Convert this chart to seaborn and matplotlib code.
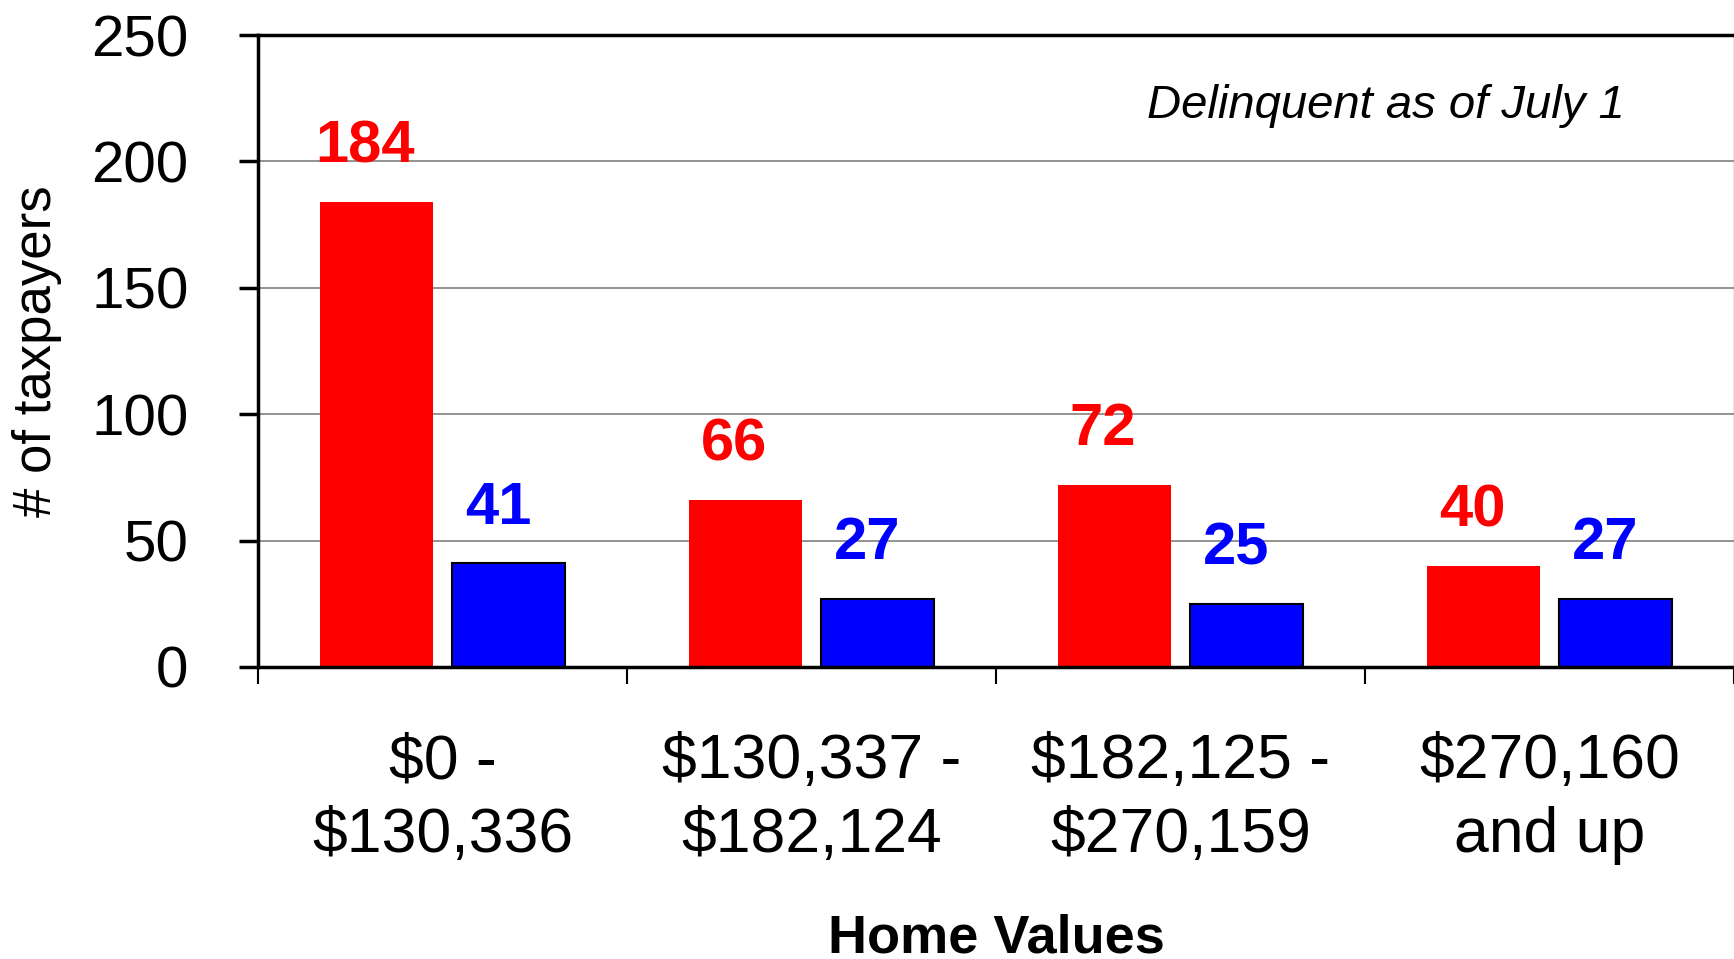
import numpy as np
import pandas as pd
import matplotlib.pyplot as plt
import seaborn as sns

# Home value brackets (the "$" is escaped so it is not read as mathtext)
home_values = ["\\$0 -\n\\$130,336", "\\$130,337 -\n\\$182,124",
               "\\$182,125 -\n\\$270,159", "\\$270,160\nand up"]

# Two series
series_names = ["red", "blue"]
red_counts = [184, 66, 72, 40]
blue_counts = [41, 27, 25, 27]
bar_colors = ["#FF0000", "#0000FF"]

sns.set_theme(style="white")
plt.rcParams["font.family"] = ["Liberation Sans", "DejaVu Sans"]
plt.rcParams["text.color"] = "black"
plt.rcParams["axes.labelcolor"] = "black"

# Long format table for seaborn
df = pd.DataFrame({
    "home_value": home_values * 2,
    "series": [series_names[0]] * len(red_counts) + [series_names[1]] * len(blue_counts),
    "taxpayers": red_counts + blue_counts,
})

fig = plt.figure(figsize=(17.34, 9.59), dpi=100)
ax = fig.add_axes([0.1488, 0.3045, 0.8512, 0.659])

sns.barplot(data=df, x="home_value", y="taxpayers", hue="series",
            palette=bar_colors, width=0.72, gap=0.15, saturation=1,
            legend=False, ax=ax)

# Red bars have no outline, blue bars a black one
for bar in ax.containers[0]:
    bar.set_edgecolor("none")
for bar in ax.containers[1]:
    bar.set_edgecolor("black")
    bar.set_linewidth(1.5)

# Value labels over the bars, nudged a little to the left like the original
for container, color in zip(ax.containers, bar_colors):
    labels = ax.bar_label(container, fmt="%d", padding=20, color=color,
                          fontsize=43, fontweight="bold")
    for lab in labels:
        lab.xyann = (-8, 20)

ax.set_xlim(-0.5, 3.5)
ax.set_ylim(0, 250)
ax.set_yticks(np.arange(0, 251, 50))
ax.yaxis.grid(True, color="#808080", linewidth=1.2)
ax.set_axisbelow(True)

# Axis frame
for side in ["top", "left", "bottom"]:
    ax.spines[side].set_color("black")
    ax.spines[side].set_linewidth(2.5)
ax.spines["right"].set_color("#808080")
ax.spines["right"].set_linewidth(1)

# Ticks
ax.tick_params(axis="y", left=True, direction="out", length=14, width=2.5,
               pad=36, labelsize=42, colors="black")
ax.tick_params(axis="x", which="major", bottom=True, length=0, pad=47,
               labelsize=45, colors="black")
ax.set_xticks(np.arange(-0.5, 4, 1), minor=True)
ax.tick_params(axis="x", which="minor", bottom=True, direction="out",
               length=12, width=1.5, color="black")
for label in ax.get_xticklabels():
    label.set_linespacing(1.33)

# Axis titles
ax.set_xlabel("Home Values", fontsize=39, fontweight="bold")
ax.xaxis.set_label_coords(0.5, -0.39)
ax.set_ylabel("# of taxpayers", fontsize=38)
ax.yaxis.set_label_coords(-0.133, 0.5)

ax.text(0.926, 222, "Delinquent as of July 1", transform=ax.get_yaxis_transform(),
        ha="right", va="center", fontsize=34, style="italic", color="black")

fig.savefig("out.png", dpi=100)
